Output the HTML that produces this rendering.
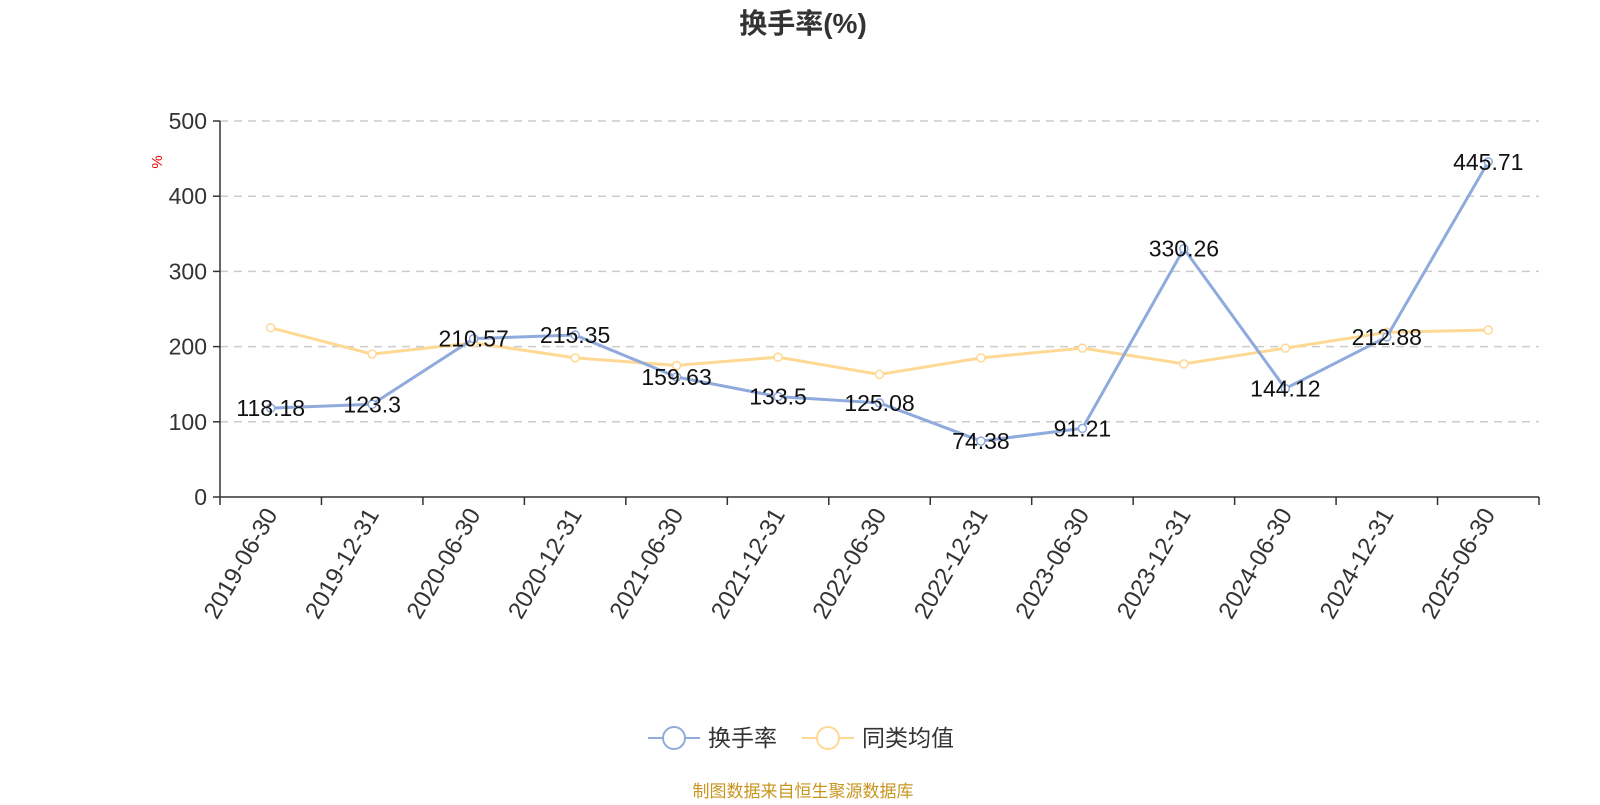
<!DOCTYPE html>
<html><head><meta charset="utf-8"><style>
body{margin:0;background:#fff;}
svg text{font-family:"Liberation Sans","Noto Sans CJK SC",sans-serif;}
</style></head><body>
<svg width="1600" height="800" xmlns="http://www.w3.org/2000/svg">
<text x="803" y="33" text-anchor="middle" font-size="28" font-weight="bold" fill="#333">换手率(%)</text>
<text transform="translate(162,162) rotate(-90)" text-anchor="middle" font-size="15" fill="#e00">%</text>
<g id="grid"></g><g id="axes"></g><g id="series"></g>
<g>
<g>
<line x1="648" y1="738" x2="700" y2="738" stroke="#8faadc" stroke-width="2"/>
<circle cx="674" cy="738" r="11" fill="#fff" stroke="#8faadc" stroke-width="2"/>
<text x="708" y="746" font-size="23" fill="#333">换手率</text></g>
<g>
<line x1="802" y1="738" x2="854" y2="738" stroke="#ffd993" stroke-width="2"/>
<circle cx="828" cy="738" r="11" fill="#fff" stroke="#ffd993" stroke-width="2"/>
<text x="862" y="746" font-size="23" fill="#333">同类均值</text></g>
</g>
<text x="803" y="797" text-anchor="middle" font-size="17" fill="#c8961e">制图数据来自恒生聚源数据库</text>
</svg>
<script>
const categories=["2019-06-30","2019-12-31","2020-06-30","2020-12-31","2021-06-30","2021-12-31","2022-06-30","2022-12-31","2023-06-30","2023-12-31","2024-06-30","2024-12-31","2025-06-30"];
const turnover=[118.18,123.3,210.57,215.35,159.63,133.5,125.08,74.38,91.21,330.26,144.12,212.88,445.71];
const peerAvg=[225,190,205,185,175,186,163,185,198,177,198,219,222];
const yTicks=[0,100,200,300,400,500];
const NS="http://www.w3.org/2000/svg";
const L=220,R=1539,T=121,B=497,yMax=500;
const bw=(R-L)/categories.length;
const xPos=i=>L+bw*(i+0.5);
const yPos=v=>B-(v/yMax)*(B-T);
function mk(tag,attrs,parent,text){const e=document.createElementNS(NS,tag);for(const k in attrs)e.setAttribute(k,attrs[k]);if(text!==undefined)e.textContent=text;parent.appendChild(e);return e;}
const grid=document.getElementById('grid'),axes=document.getElementById('axes'),ser=document.getElementById('series');
yTicks.forEach(t=>{
 if(t>0){const g=mk('line',{x1:L,x2:R,y1:yPos(t),y2:yPos(t),stroke:'#ccc','stroke-dasharray':'8,6','stroke-width':1.5},grid);
 
 }
 const tk=mk('line',{x1:L-7,x2:L,y1:yPos(t),y2:yPos(t),stroke:'#333','stroke-width':1.5},axes);
 
 
 const lb=mk('text',{x:L-13,y:yPos(t)+8,'text-anchor':'end','font-size':23,fill:'#333'},axes,String(t));
 
 
});
const ya=mk('line',{x1:L,x2:L,y1:T,y2:B,stroke:'#333','stroke-width':1.5},axes);


const xa=mk('line',{x1:L,x2:R,y1:B,y2:B,stroke:'#333','stroke-width':1.5},axes);


for(let i=0;i<=categories.length;i++){
 const tk=mk('line',{x1:L+bw*i,x2:L+bw*i,y1:B,y2:B+8,stroke:'#333','stroke-width':1.5},axes);
 
 
}
categories.forEach((c,i)=>{
 const x=xPos(i)+2,y=B+14;
 const lb=mk('text',{x:x,y:y,transform:`rotate(-60 ${x} ${y})`,'text-anchor':'end','dominant-baseline':'middle','font-size':24,fill:'#333'},axes,c);
 
 
});
function drawSeries(vals,color,name,labels){
 const pts=vals.map((v,i)=>xPos(i)+','+yPos(v)).join(' ');
 const pl=mk('polyline',{points:pts,fill:'none',stroke:color,'stroke-width':3},ser);
 
 
 vals.forEach((v,i)=>{
  const c=mk('circle',{cx:xPos(i),cy:yPos(v),r:4,fill:'#fff',stroke:color,'stroke-width':1.5},ser);
  
  
  if(labels){const t=mk('text',{x:xPos(i),y:yPos(v)+8,'text-anchor':'middle','font-size':23,fill:'#111'},ser,String(v));
  
  }
 });
}
drawSeries(peerAvg,'#ffd993','peer-average',false);
drawSeries(turnover,'#8faadc','turnover',true);
</script>
</body></html>
